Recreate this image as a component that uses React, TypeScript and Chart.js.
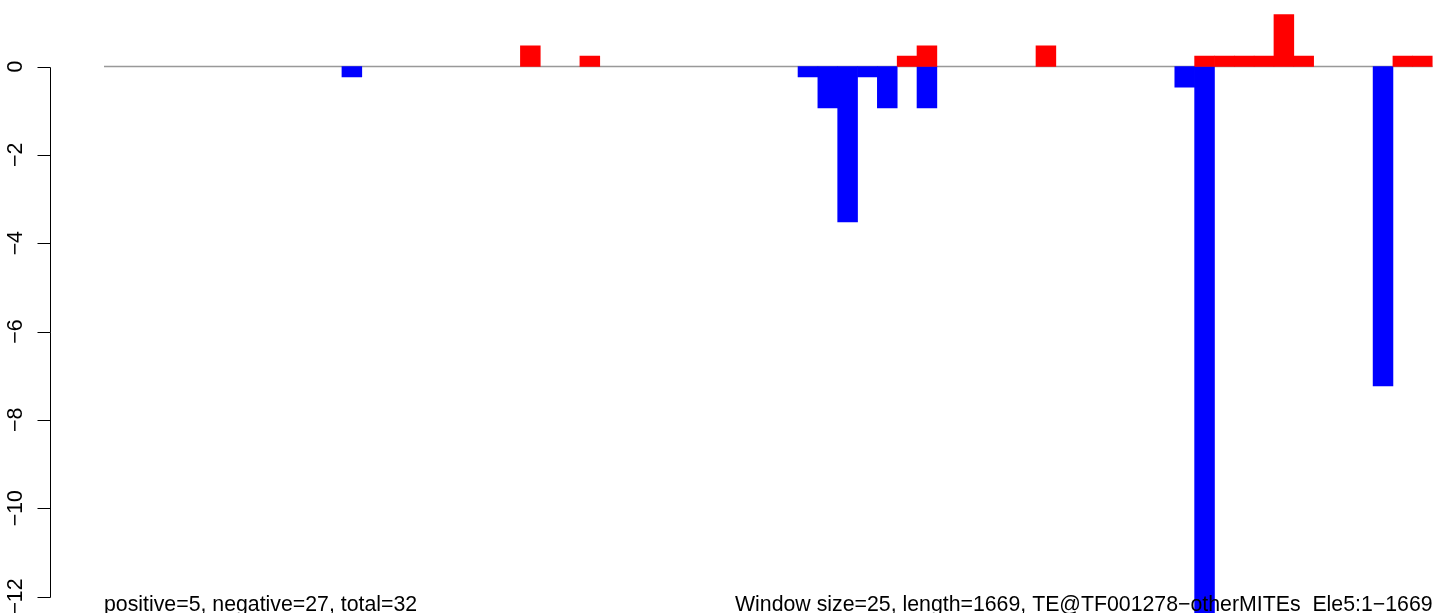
import React, { useEffect, useRef } from 'react';
import { Chart, registerables } from 'chart.js';

Chart.register(...registerables);

// 67 windows of 25 bp over a 1669 bp element
const WINDOW_LABELS: string[] = [
  '1', '26', '51', '76', '101', '126', '151', '176', '201', '226',
  '251', '276', '301', '326', '351', '376', '401', '426', '451', '476',
  '501', '526', '551', '576', '601', '626', '651', '676', '701', '726',
  '751', '776', '801', '826', '851', '876', '901', '926', '951', '976',
  '1001', '1026', '1051', '1076', '1101', '1126', '1151', '1176', '1201', '1226',
  '1251', '1276', '1301', '1326', '1351', '1376', '1401', '1426', '1451', '1476',
  '1501', '1526', '1551', '1576', '1601', '1626', '1651',
];

const POSITIVE: (number | null)[] = [
  null, null, null, null, null, null, null, null, null, null,
  null, null, null, null, null, null, null, null, null, null,
  null, 0.47, null, null, 0.235, null, null, null, null, null,
  null, null, null, null, null, null, null, null, null, null,
  0.235, 0.47, null, null, null, null, null, 0.47, null, null,
  null, null, null, null, null, 0.235, 0.235, 0.235, 0.235, 1.175,
  0.235, null, null, null, null, 0.235, 0.235,
];

const NEGATIVE: (number | null)[] = [
  null, null, null, null, null, null, null, null, null, null,
  null, null, -0.235, null, null, null, null, null, null, null,
  null, null, null, null, null, null, null, null, null, null,
  null, null, null, null, null, -0.235, -0.94, -3.52, -0.235, -0.94,
  null, -0.94, null, null, null, null, null, null, null, null,
  null, null, null, null, -0.47, -13, null, null, null, null,
  null, null, null, null, -7.23, null, null,
];

const Y_TICKS: number[] = [0, -2, -4, -6, -8, -10, -12];
const Y_MAX = 1.5057;
const Y_MIN = -12.373;

const LEFT_TEXT = 'positive=5, negative=27, total=32';
const RIGHT_TEXT = 'Window size=25, length=1669, TE@TF001278\u2212otherMITEs_Ele5:1\u22121669';

const FONT = "21.3px 'Liberation Sans', Arial, Helvetica, sans-serif";

const fmt = (v: number) => (v < 0 ? '\u2212' + String(-v) : String(v));

const rPlotPlugin = {
  id: 'rPlot',
  beforeDatasetsDraw(chart: any) {
    const { ctx, chartArea, scales } = chart;
    const y0 = scales.y.getPixelForValue(0);
    ctx.save();
    ctx.strokeStyle = '#999999';
    ctx.lineWidth = 1.5;
    ctx.beginPath();
    ctx.moveTo(chartArea.left, y0);
    ctx.lineTo(chartArea.right, y0);
    ctx.stroke();
    ctx.restore();
  },
  afterDraw(chart: any) {
    const { ctx, chartArea, scales } = chart;
    const ys = scales.y;
    ctx.save();
    ctx.strokeStyle = '#000000';
    ctx.fillStyle = '#000000';
    ctx.lineWidth = 1;
    const axisX = 50.5;
    const top = Math.round(ys.getPixelForValue(Y_TICKS[0])) + 0.5;
    const bottom = Math.round(ys.getPixelForValue(Y_TICKS[Y_TICKS.length - 1])) + 0.5;
    ctx.beginPath();
    ctx.moveTo(axisX, top);
    ctx.lineTo(axisX, bottom);
    for (const v of Y_TICKS) {
      const p = Math.round(ys.getPixelForValue(v)) + 0.5;
      ctx.moveTo(37.5, p);
      ctx.lineTo(axisX, p);
    }
    ctx.stroke();

    ctx.font = FONT;
    for (const v of Y_TICKS) {
      const p = ys.getPixelForValue(v);
      ctx.save();
      ctx.translate(21.5, p);
      ctx.rotate(-Math.PI / 2);
      ctx.textAlign = 'center';
      ctx.textBaseline = 'alphabetic';
      ctx.fillText(fmt(v), 0, 0);
      ctx.restore();
    }

    ctx.textBaseline = 'alphabetic';
    ctx.textAlign = 'left';
    ctx.fillText(LEFT_TEXT, chartArea.left, 611);
    ctx.textAlign = 'right';
    ctx.fillText(RIGHT_TEXT, chartArea.right, 611);
    ctx.restore();
  },
};

export default function App() {
  const canvasRef = useRef<HTMLCanvasElement | null>(null);

  useEffect(() => {
    const canvas = canvasRef.current;
    if (!canvas) return;
    const chart = new Chart(canvas, {
      type: 'bar',
      data: {
        labels: WINDOW_LABELS,
        datasets: [
          {
            label: 'positive',
            data: POSITIVE,
            backgroundColor: '#FF0000',
            borderWidth: 0,
            barPercentage: 1,
            categoryPercentage: 1,
          },
          {
            label: 'negative',
            data: NEGATIVE,
            backgroundColor: '#0000FF',
            borderWidth: 0,
            barPercentage: 1,
            categoryPercentage: 1,
          },
        ],
      },
      options: {
        animation: false,
        responsive: false,
        devicePixelRatio: 1,
        layout: { padding: { left: 104, right: 14.4, top: 0, bottom: 0 } },
        plugins: {
          legend: { display: false },
          tooltip: { enabled: false },
        },
        scales: {
          x: { display: false, stacked: true },
          y: { display: false, stacked: true, min: Y_MIN, max: Y_MAX },
        },
      },
      plugins: [rPlotPlugin],
    });
    return () => chart.destroy();
  }, []);

  return (
    <div style={{ position: 'absolute', left: 0, top: 0, width: 1447, height: 613, background: '#ffffff' }}>
      <canvas ref={canvasRef} width={1447} height={613} style={{ display: 'block' }} />
    </div>
  );
}
